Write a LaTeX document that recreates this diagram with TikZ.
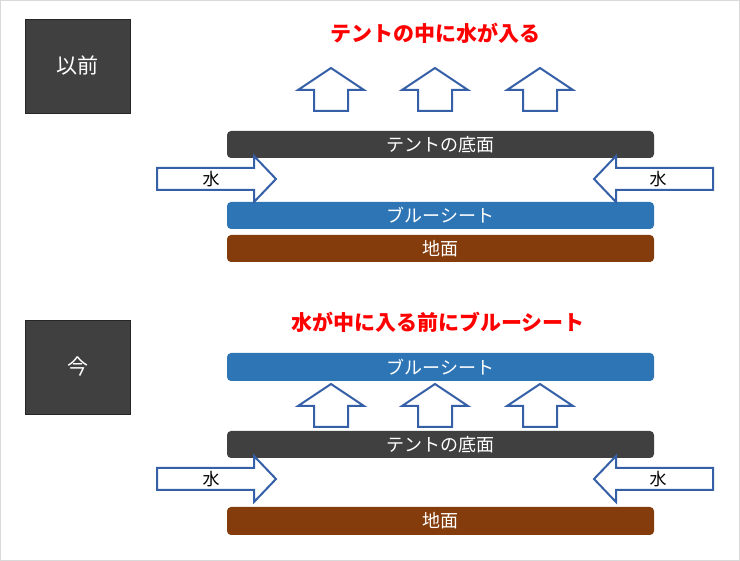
\documentclass[tikz,border=0pt]{standalone}
\usepackage{fontspec}
\newfontfamily\jp{Noto Sans CJK JP}
\definecolor{darkbar}{HTML}{404040}
\definecolor{bluebar}{HTML}{2E75B6}
\definecolor{groundbar}{HTML}{843C0C}
\definecolor{arrowblue}{HTML}{3560A8}
\definecolor{titlered}{HTML}{FF0000}
\begin{document}
\begin{tikzpicture}[x=1pt,y=-1pt,
  bar/.style={rounded corners=4pt, minimum width=427pt, minimum height=27pt, inner sep=0pt, text=white, font=\jp\fontsize{18}{18}\selectfont},
  tentbar/.style={bar, fill=darkbar},
  bluesheet/.style={bar, fill=bluebar},
  ground/.style={bar, fill=groundbar},
  phase/.style={fill=darkbar, draw=black!85, line width=0.8pt, minimum width=105pt, minimum height=94pt, inner sep=0pt, text=white, font=\jp\fontsize{21}{21}\selectfont},
  headline/.style={text=titlered, font=\jp\bfseries\fontsize{21}{21}\selectfont, inner sep=0pt},
  arrowline/.style={draw=arrowblue, fill=white, line width=2pt, line join=miter},
  waterlabel/.style={font=\jp\fontsize{17}{17}\selectfont, inner sep=0pt},
  uparrow/.pic={\path[arrowline] (0,0) -- (33,22) -- (17,22) -- (17,43) -- (-17,43) -- (-17,22) -- (-33,22) -- cycle;},
  rightarrow/.pic={\path[arrowline] (0,-11) -- (97,-11) -- (97,-23) -- (119,0) -- (97,23) -- (97,11) -- (0,11) -- cycle;},
  leftarrow/.pic={\path[arrowline] (0,-11) -- (-97,-11) -- (-97,-23) -- (-119,0) -- (-97,23) -- (-97,11) -- (0,11) -- cycle;}
]
\useasboundingbox (0,0) rectangle (740,561);
\draw[black!15, line width=1pt] (0.5,0.5) rectangle (739.5,560.5);

% ---- before ----
\node[phase] (before) at (77.5,66) {以前};
\node[headline] (title1) at (435,33) {テントの中に水が入る};
\node[tentbar] (tent1) at (440.5,144.5) {テントの底面};
\node[bluesheet] (sheet1) at (440.5,215.5) {ブルーシート};
\node[ground] (ground1) at (440.5,248.5) {地面};
\pic at (331,68) {uparrow};
\pic at (435,68) {uparrow};
\pic at (540,68) {uparrow};
\pic at (157,179) {rightarrow};
\pic at (713,179) {leftarrow};
\node[waterlabel] (waterL1) at (211,179) {水};
\node[waterlabel] (waterR1) at (658,179) {水};

% ---- now ----
\node[phase] (now) at (77.5,367) {今};
\node[headline] (title2) at (438,322) {水が中に入る前にブルーシート};
\node[bluesheet, minimum height=28pt] (sheet2) at (440.5,367) {ブルーシート};
\node[tentbar] (tent2) at (440.5,444.5) {テントの底面};
\node[ground, minimum height=28pt] (ground2) at (440.5,521) {地面};
\pic at (331,384) {uparrow};
\pic at (435,384) {uparrow};
\pic at (540,384) {uparrow};
\pic at (157,479) {rightarrow};
\pic at (713,479) {leftarrow};
\node[waterlabel] (waterL2) at (211,479) {水};
\node[waterlabel] (waterR2) at (658,479) {水};
\end{tikzpicture}
\end{document}
